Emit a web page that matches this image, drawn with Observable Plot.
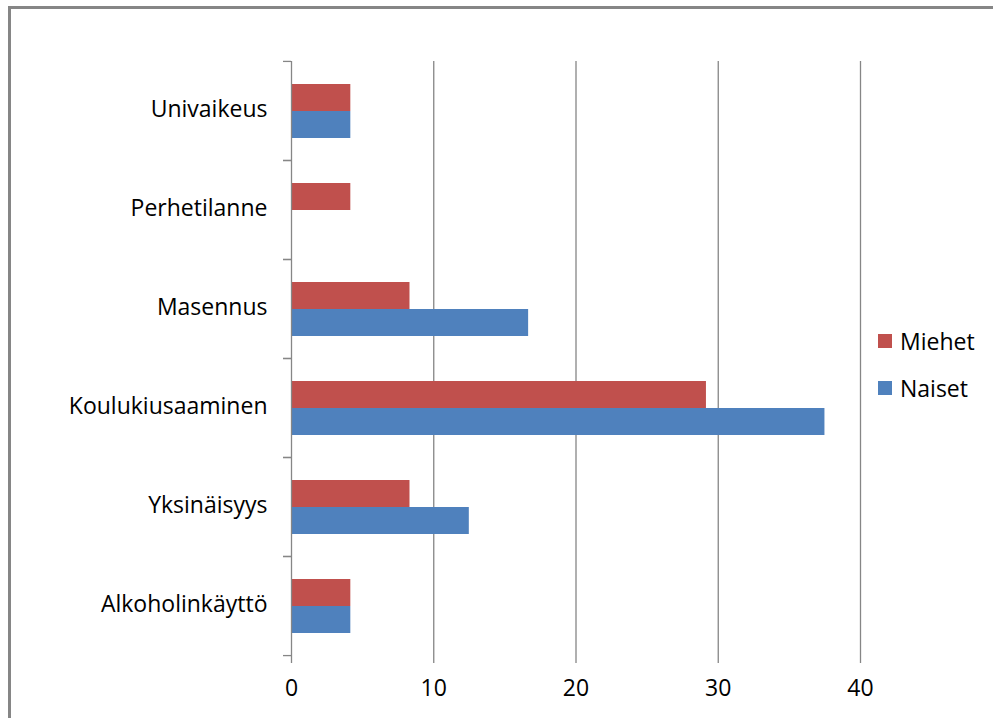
<!DOCTYPE html>
<html>
<head>
<meta charset="utf-8">
<script src="https://cdn.jsdelivr.net/npm/d3@7"></script>
<script src="https://cdn.jsdelivr.net/npm/@observablehq/plot@0.6"></script>
<style>
  html, body { margin: 0; padding: 0; background: #fff; }
  #wrap { position: relative; width: 993px; height: 718px; overflow: hidden; font-family: "Open Sans", sans-serif; }
  #wrap svg { position: absolute; left: 0; top: 0; }
  #border { position: absolute; left: 8px; top: 6px; width: 1200px; height: 1200px;
            border-left: 3px solid #868686; border-top: 3px solid #868686; box-sizing: border-box; }
  #legend { position: absolute; left: 878px; top: 325px; font-size: 23px; color: #000; }
  #legend .item { display: flex; align-items: center; height: 31px; margin-bottom: 16px; }
  #legend .sw { width: 14px; height: 14px; margin-right: 8px; }
</style>
</head>
<body>
<div id="wrap"><div id="border"></div><div id="legend"></div></div>
<script>
// Reasons reported, share of respondents (%)
const categories = ["Univaikeus", "Perhetilanne", "Masennus", "Koulukiusaaminen", "Yksinäisyys", "Alkoholinkäyttö"];
const series = ["Miehet", "Naiset"];
const miehet = [4.17, 4.17, 8.33, 29.17, 8.33, 4.17];
const naiset = [4.17, 0, 16.67, 37.5, 12.5, 4.17];
const colors = ["#C0504D", "#4F81BD"];
const xTicks = [0, 10, 20, 30, 40];

const W = 993, H = 718;
const margin = {left: 291, right: 133, top: 60, bottom: 63};
const bandStep = (H - margin.top - margin.bottom) / categories.length;
const axisColor = "#868686";
const fontSize = 23;

const rows = categories.flatMap((c, i) => [
  {category: c, series: "Miehet", value: miehet[i]},
  {category: c, series: "Naiset", value: naiset[i]}
]);

const chart = Plot.plot({
  width: W,
  height: H,
  marginLeft: margin.left,
  marginRight: margin.right,
  marginTop: margin.top,
  marginBottom: margin.bottom,
  style: {fontFamily: "'Open Sans', sans-serif", fontSize: fontSize + "px", color: "#000", background: "transparent"},
  x: {domain: [0, 40], axis: null},
  y: {domain: series, paddingInner: 0, paddingOuter: 0.77, axis: null},
  fy: {domain: categories, padding: 0, axis: null},
  color: {domain: series, range: colors},
  marks: [
    Plot.gridX(xTicks.slice(1), {stroke: axisColor, strokeOpacity: 1, strokeWidth: 1.3}),
    Plot.barX(rows, {x: "value", y: "series", fy: "category", fill: "series"}),
    Plot.ruleX([0], {stroke: axisColor, strokeWidth: 1.3}),
    // category boundary ticks
    Plot.axisFy({anchor: "left", tickSize: 8, stroke: axisColor, strokeWidth: 1.3, fill: "none", label: null, dy: -bandStep / 2}),
    Plot.axisFy({anchor: "left", tickSize: 8, stroke: axisColor, strokeWidth: 1.3, fill: "none", label: null, dy: bandStep / 2}),
    // category labels
    Plot.axisFy({anchor: "left", tickSize: 0, tickPadding: 24, fill: "#000", label: null, fontSize, dy: -1}),
    Plot.axisX({ticks: xTicks, tickSize: 8, tickPadding: 16, stroke: axisColor, strokeWidth: 1.3, fill: "#000",
                line: true, label: null, fontSize})
  ]
});

const wrap = document.getElementById("wrap");
wrap.insertBefore(chart, document.getElementById("legend"));

const legend = document.getElementById("legend");
series.forEach((s, i) => {
  const item = document.createElement("div");
  item.className = "item";
  const sw = document.createElement("span");
  sw.className = "sw";
  sw.style.background = colors[i];
  const label = document.createElement("span");
  label.textContent = s;
  item.append(sw, label);
  legend.append(item);
});
</script>
</body>
</html>
